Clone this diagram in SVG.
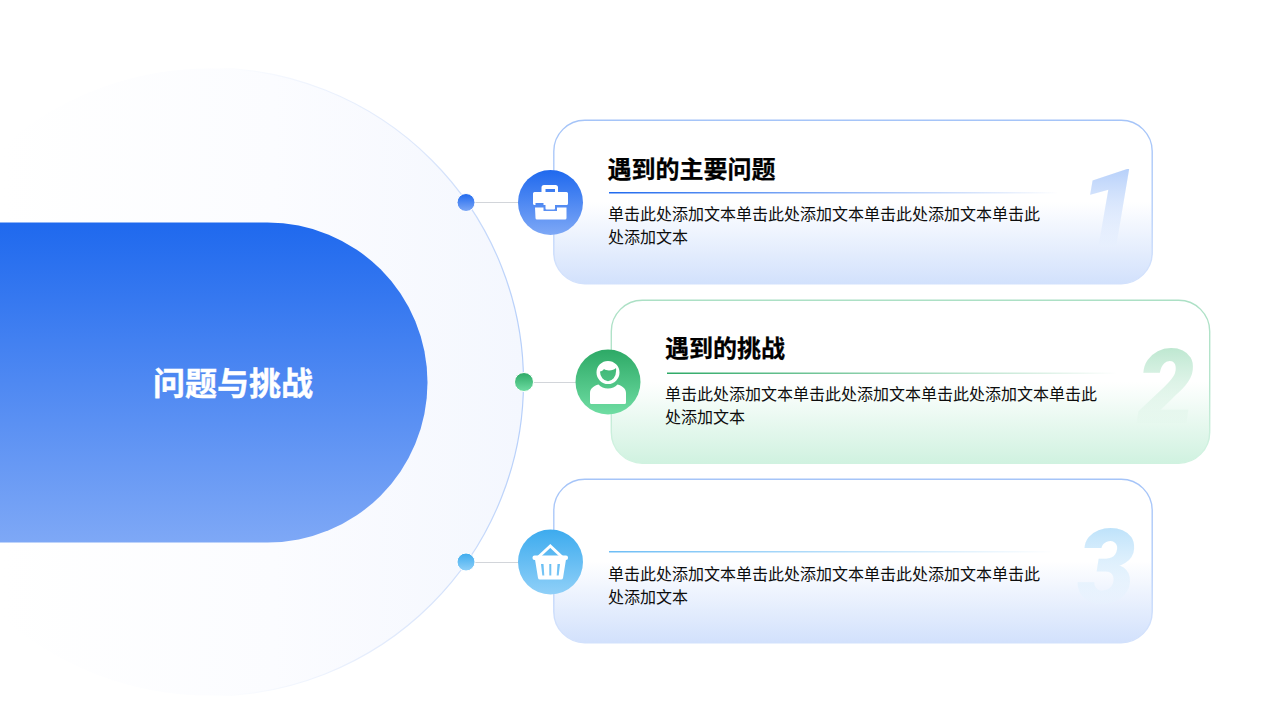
<svg xmlns="http://www.w3.org/2000/svg" width="1280" height="720" viewBox="0 0 1280 720">
<style>
text{font-family:"Noto Sans CJK SC","Noto Sans",sans-serif}
.t{font-size:24px;font-weight:700;fill:#000;stroke:#000;stroke-width:.25px}
.b{font-size:16px;fill:#0d0d0d}
.n{font-family:Roboto,"Liberation Sans",sans-serif;font-weight:900;font-style:italic}
.cn{stroke:#d2d5da;stroke-width:1;fill:none}
.ic{fill:#fff}
.dot{stroke:#fff;stroke-width:1}
</style>
<defs>
<linearGradient id="bigc" x1="0" y1="0" x2="1" y2="0"><stop offset="0.17" stop-color="#fff"/><stop offset="0.6" stop-color="#fbfcff"/><stop offset="1" stop-color="#f4f7fe"/></linearGradient>
<linearGradient id="bigs" x1="0" y1="0" x2="1" y2="0"><stop offset="0.5" stop-color="#fff"/><stop offset="0.85" stop-color="#dbe6fb"/><stop offset="1" stop-color="#b6cffa"/></linearGradient>
<linearGradient id="blue" x1="0" y1="0" x2="0" y2="1"><stop offset="0" stop-color="#1f69ee"/><stop offset="1" stop-color="#7ea8f6"/></linearGradient>
<linearGradient id="green" x1="0" y1="0" x2="0" y2="1"><stop offset="0" stop-color="#2da966"/><stop offset="1" stop-color="#6fdda3"/></linearGradient>
<linearGradient id="sky" x1="0" y1="0" x2="0" y2="1"><stop offset="0" stop-color="#3dabee"/><stop offset="1" stop-color="#90d0f8"/></linearGradient>
<linearGradient id="cardB" x1="0" y1="0" x2="0" y2="1"><stop offset="0.5" stop-color="#fff"/><stop offset="1" stop-color="#d2e1fc"/></linearGradient>
<linearGradient id="cardG" x1="0" y1="0" x2="0" y2="1"><stop offset="0.5" stop-color="#fff"/><stop offset="1" stop-color="#d0f2e0"/></linearGradient>
<linearGradient id="sB" x1="0" y1="0" x2="0" y2="1"><stop offset="0" stop-color="#a5c4f8"/><stop offset="0.55" stop-color="#b5cffa"/><stop offset="0.9" stop-color="#d2e1fc"/></linearGradient>
<linearGradient id="sG" x1="0" y1="0" x2="0" y2="1"><stop offset="0" stop-color="#ace0c5"/><stop offset="0.55" stop-color="#b8e6ce"/><stop offset="0.9" stop-color="#d0f2e0"/></linearGradient>
<linearGradient id="lnB" x1="0" y1="0" x2="1" y2="0"><stop offset="0" stop-color="#1f69ee"/><stop offset="1" stop-color="#1f69ee" stop-opacity="0"/></linearGradient>
<linearGradient id="lnG" x1="0" y1="0" x2="1" y2="0"><stop offset="0" stop-color="#2da966"/><stop offset="1" stop-color="#2da966" stop-opacity="0"/></linearGradient>
<linearGradient id="lnS" x1="0" y1="0" x2="1" y2="0"><stop offset="0" stop-color="#6dbdf5"/><stop offset="1" stop-color="#6dbdf5" stop-opacity="0"/></linearGradient>
<linearGradient id="n1" gradientUnits="userSpaceOnUse" x1="0" y1="167" x2="0" y2="250"><stop offset="0" stop-color="#b5cffa"/><stop offset="1" stop-color="#e9f1fe" stop-opacity="0.4"/></linearGradient>
<linearGradient id="n2" gradientUnits="userSpaceOnUse" x1="0" y1="347" x2="0" y2="428"><stop offset="0" stop-color="#bde7d0"/><stop offset="1" stop-color="#e5f7ed" stop-opacity="0.3"/></linearGradient>
<linearGradient id="n3" gradientUnits="userSpaceOnUse" x1="0" y1="527" x2="0" y2="608"><stop offset="0" stop-color="#bde2fa"/><stop offset="1" stop-color="#eaf4fe" stop-opacity="0.3"/></linearGradient>
</defs>
<g id="hub">
<circle cx="209.500" cy="382" r="314" fill="url(#bigc)" stroke="url(#bigs)" stroke-width="1.200"/>
<path d="M0 222.500H267.500A160 160 0 0 1 267.500 542.500H0Z" fill="url(#blue)"/>
<text x="233" y="395" text-anchor="middle" font-size="32" font-weight="700" fill="#fff" stroke="#fff" stroke-width=".4">问题与挑战</text>
</g>
<g id="connectors">
<path class="cn" d="M474 202.500H520"/>
<path class="cn" d="M532 382.500H578"/>
<path class="cn" d="M474 562.500H520"/>
</g>
<g id="card1">
<rect x="553.800" y="120.300" width="598.400" height="163.400" rx="31" fill="url(#cardB)" stroke="url(#sB)" stroke-width="1.400"/>
<text class="n" x="1078" y="247" font-size="110" fill="url(#n1)">1</text>
<text class="t" x="607.500" y="178">遇到的主要问题</text>
<rect x="609" y="192" width="450" height="1.500" fill="url(#lnB)"/>
<text class="b" x="608" y="220">单击此处添加文本单击此处添加文本单击此处添加文本单击此</text>
<text class="b" x="608" y="243">处添加文本</text>
<circle class="dot" cx="466" cy="202.500" r="9" fill="url(#blue)"/>
<circle cx="550.500" cy="202.500" r="32.500" fill="url(#blue)"/>
<g class="ic">
<path fill-rule="evenodd" d="M533 193.500a1.500 1.500 0 0 1 1.500-1.500h7v-4.500a2.500 2.500 0 0 1 2.500-2.500h11.500a2.500 2.500 0 0 1 2.500 2.500v4.500h8.500a1.500 1.500 0 0 1 1.500 1.500v10a1.500 1.500 0 0 1-1.500 1.500h-23v-2h-8v2h-.5a1.500 1.500 0 0 1-2-1.500ZM545.500 192h9.500v-3h-9.500Z"/>
<path d="M535 207.500h8.500v3.500h13.500v-3.500h9.500v10.500a1.500 1.500 0 0 1-1.500 1.500h-28a1.500 1.500 0 0 1-1.500-1.500Z"/>
<rect x="545.500" y="203.500" width="9.500" height="6" rx="1"/>
</g>
</g>
<g id="card2">
<rect x="611.300" y="300.300" width="598.400" height="162.900" rx="31" fill="url(#cardG)" stroke="url(#sG)" stroke-width="1.400"/>
<text class="n" x="1137" y="423" font-size="103" fill="url(#n2)">2</text>
<text class="t" x="665" y="357">遇到的挑战</text>
<rect x="667" y="372.500" width="450" height="1.500" fill="url(#lnG)"/>
<text class="b" x="665" y="400">单击此处添加文本单击此处添加文本单击此处添加文本单击此</text>
<text class="b" x="665" y="423">处添加文本</text>
<circle class="dot" cx="524" cy="382" r="9.500" fill="url(#green)"/>
<circle cx="608" cy="382" r="32.500" fill="url(#green)"/>
<g class="ic">
<path fill-rule="evenodd" d="M608 361a11.500 11.500 0 0 1 0 23a11.500 11.500 0 0 1 0-23ZM600 371.500a8 9.700 0 0 0 16 0q.3-1.800 0-3.500c-2 2.500-9 3.500-12 1c-1 1.500-2.500 2.300-4 2.500Z"/>
<path d="M598.500 384.500c2.500 2.500 5.500 4 9.500 4s7-1.500 9.500-4c5 1.500 8.500 4 8.500 8.500v9.500a1.500 1.500 0 0 1-1.500 1.500h-33a1.500 1.500 0 0 1-1.500-1.500v-9.500c0-4.500 3.500-7 8.500-8.500Z"/>
</g>
</g>
<g id="card3">
<rect x="553.800" y="479.300" width="598.400" height="163.400" rx="31" fill="url(#cardB)" stroke="url(#sB)" stroke-width="1.400"/>
<text class="n" x="1077" y="603" font-size="104" fill="url(#n3)">3</text>
<rect x="609" y="551" width="445" height="1.500" fill="url(#lnS)"/>
<text class="b" x="608" y="580">单击此处添加文本单击此处添加文本单击此处添加文本单击此</text>
<text class="b" x="608" y="603">处添加文本</text>
<circle class="dot" cx="466" cy="562" r="9" fill="url(#sky)"/>
<circle cx="550.500" cy="562" r="32.500" fill="url(#sky)"/>
<g class="ic">
<path fill="none" stroke="#fff" stroke-width="3" d="M538.500 557L550.300 546L562 557"/>
<rect x="532.500" y="555.500" width="35.500" height="4.500" rx="2"/>
<path fill-rule="evenodd" d="M535 559.500h31l-3 18.500a2 2 0 0 1-2 1.500h-21a2 2 0 0 1-2-1.500ZM541 564l1.300 11.500h2l-.8-11.500ZM549.300 564v11.500h2v-11.500ZM557.500 564l-.8 11.500h2l1.300-11.500Z"/>
</g>
</g>
</svg>
